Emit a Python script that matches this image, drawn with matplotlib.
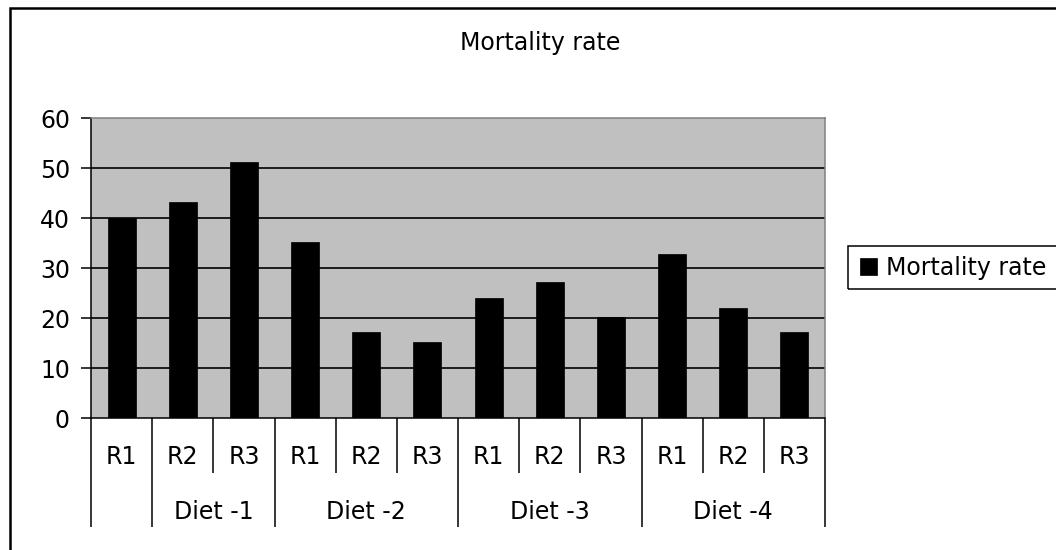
import matplotlib.pyplot as plt
from matplotlib.patches import Rectangle
from matplotlib.transforms import blended_transform_factory

# Datos
replicas = ["R1", "R2", "R3", "R1", "R2", "R3", "R1", "R2", "R3", "R1", "R2", "R3"]
mortalidad = [40.1, 43.3, 51.3, 35.3, 17.3, 15.3, 24.1, 27.3, 20.2, 32.9, 22.1, 17.3]
dietas = ["", "Diet -1", "Diet -2", "Diet -3", "Diet -4"]
tam_grupo = [1, 2, 3, 3, 3]
yticks = [0, 10, 20, 30, 40, 50, 60]

plt.rcParams["font.family"] = ["DejaVu Sans"]
fs = 17

fig = plt.figure(figsize=(10.56, 5.5), dpi=100)
ax = fig.add_axes([91 / 1056, 1 - 418.3 / 550, 734 / 1056, 300 / 550])
ax.set_facecolor("#C0C0C0")

x = list(range(len(mortalidad)))
barras = ax.bar(x, mortalidad, width=0.46, color="black", edgecolor="black",
                linewidth=0.5, zorder=3, label="Mortality rate")

# Líneas de la cuadrícula (la de 60 coincide con el borde gris)
ax.hlines(yticks[1:-1], -0.5, len(x) - 0.5, colors="black", linewidth=1.2, zorder=1)

ax.set_xlim(-0.5, len(x) - 0.5)
ax.set_ylim(yticks[0], yticks[-1])
ax.set_yticks(yticks)
ax.tick_params(axis="y", direction="out", length=7.2, width=1.1, labelsize=fs, pad=8)

for lado in ["top", "right"]:
    ax.spines[lado].set_color("#808080")
    ax.spines[lado].set_linewidth(1.1)
for lado in ["left", "bottom"]:
    ax.spines[lado].set_color("black")
    ax.spines[lado].set_linewidth(1.1)

# Eje de categorías en dos niveles, estilo Excel
limites = [-0.5]
for n in tam_grupo:
    limites.append(limites[-1] + n)
menores = [i - 0.5 for i in range(len(x) + 1) if (i - 0.5) not in limites]
ax.set_xticks(limites)
ax.set_xticks(menores, minor=True)
ax.tick_params(axis="x", which="major", direction="out", length=78.5, width=1.1,
               labelbottom=False)
ax.tick_params(axis="x", which="minor", direction="out", length=39.6, width=1.1,
               labelbottom=False)

trans = blended_transform_factory(ax.transData, ax.transAxes)
for i, r in enumerate(replicas):
    ax.text(i, -0.13, r, transform=trans, ha="center", va="center", fontsize=fs)
for j, d in enumerate(dietas):
    centro = (limites[j] + limites[j + 1]) / 2
    ax.text(centro, -0.313, d, transform=trans, ha="center", va="center", fontsize=fs)

fig.text(540 / 1056, 1 - 43 / 550, "Mortality rate", ha="center", va="center", fontsize=fs)

# Leyenda
fig.legend(handles=[barras], loc="center left", bbox_to_anchor=(860 / 1056, 1 - 268 / 550),
           frameon=False, fontsize=fs, handlelength=0.7, handleheight=0.7,
           handletextpad=0.4, borderpad=0, borderaxespad=0)
fig.add_artist(Rectangle((848 / 1056, 1 - 289 / 550), 0.3, 43 / 550,
                         transform=fig.transFigure, fill=False,
                         edgecolor="black", linewidth=1.1))

# Borde exterior del gráfico
fig.add_artist(Rectangle((10 / 1056, -0.1), 1.2, 1.1 - 8 / 550,
                         transform=fig.transFigure, fill=False,
                         edgecolor="black", linewidth=1.8))

plt.savefig("out.png", dpi=100)
plt.close()
